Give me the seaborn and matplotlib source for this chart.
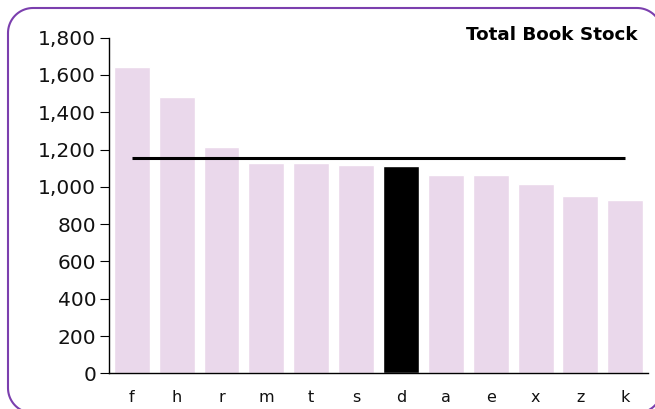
import matplotlib
matplotlib.use("Agg")
import matplotlib.pyplot as plt
from matplotlib.lines import Line2D
from matplotlib.transforms import IdentityTransform
import numpy as np
import seaborn as sns
import pandas as pd

# Book stock per branch, sorted high to low
branches = ["f", "h", "r", "m", "t", "s", "d", "a", "e", "x", "z", "k"]
stock = [1644, 1480, 1215, 1130, 1126, 1117, 1112, 1065, 1065, 1017, 951, 930]
highlight = "d"
average = 1155
y_ticks = [0, 200, 400, 600, 800, 1000, 1200, 1400, 1600, 1800]

sns.set_theme(style="white")
plt.rcParams["font.family"] = ["DejaVu Sans"]

df = pd.DataFrame({"branch": branches, "stock": stock})
palette = {b: ("#000000" if b == highlight else "#EAD8EB") for b in branches}

fig = plt.figure(figsize=(6.55, 4.09), dpi=100)
ax = fig.add_axes([0.1669, 0.0873, 0.8220, 0.8205])

sns.barplot(data=df, x="branch", y="stock", hue="branch", palette=palette,
            order=branches, width=0.8, legend=False, ax=ax, saturation=1)

# Average line from first to last bar centre
ax.plot([0, len(branches) - 1], [average, average], color="black", lw=2.2,
        solid_capstyle="butt")

ax.set_xlim(-0.5, len(branches) - 0.5)
ax.set_ylim(0, 1800)
ax.set_yticks(y_ticks)
ax.set_yticklabels([f"{v:,}" for v in y_ticks])
ax.set_xlabel("")
ax.set_ylabel("")
for side in ["top", "right"]:
    ax.spines[side].set_visible(False)
for side in ["left", "bottom"]:
    ax.spines[side].set_color("black")
    ax.spines[side].set_linewidth(1.0)
ax.tick_params(axis="y", which="major", left=True, length=6.5, width=0.8,
               color="black", labelsize=14.5, pad=3, labelcolor="#111111")
ax.tick_params(axis="x", bottom=False, labelsize=11.5, pad=6,
               labelcolor="#111111")

fig.text(638 / 655, 1 - 35 / 409, "Total Book Stock", ha="right", va="center",
         fontsize=13.2, fontweight="bold", color="black")

# Rounded frame around the chart as a polyline in pixel units,
# walked clockwise starting at the top-left corner
x0, y0, x1, y1, r = 8.0, -4.0, 662.0, 401.0, 25.0
corner_arcs = [(x0 + r, y1 - r, np.linspace(np.pi, np.pi / 2, 20)),
               (x1 - r, y1 - r, np.linspace(np.pi / 2, 0, 20)),
               (x1 - r, y0 + r, np.linspace(0, -np.pi / 2, 20)),
               (x0 + r, y0 + r, np.linspace(-np.pi / 2, -np.pi, 20))]
xs, ys = [], []
for cx, cy, ang in corner_arcs:
    xs.extend(cx + r * np.cos(ang))
    ys.extend(cy + r * np.sin(ang))
xs.append(xs[0])
ys.append(ys[0])
frame = Line2D(xs, ys, transform=IdentityTransform(), color="#7B3FAE",
               linewidth=1.5, solid_joinstyle="round")
fig.lines.append(frame)

fig.savefig("out.png", dpi=100)
